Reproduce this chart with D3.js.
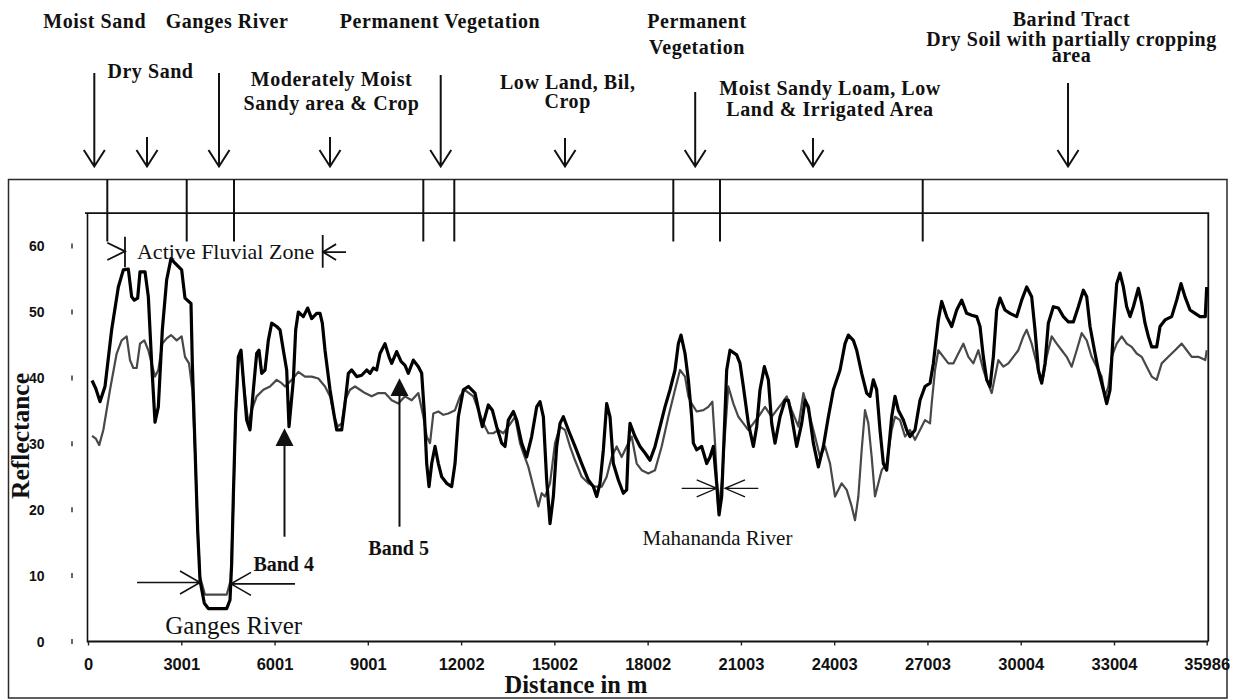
<!DOCTYPE html>
<html>
<head>
<meta charset="utf-8">
<title>Reflectance profile across the transect</title>
<script src="https://cdn.jsdelivr.net/npm/d3@7"></script>
<style>
  html, body { margin: 0; padding: 0; background: #fff; }
  svg { display: block; }
</style>
</head>
<body>
<svg id="chart" width="1244" height="700"></svg>
<script>
// ---------------------------------------------------------------
// Reflectance along the transect: [distance in m, reflectance]
// ---------------------------------------------------------------
const band4Profile = [
  [130,39.6],[250,38.4],[386,36.4],[547,38.7],[761,47.3],[976,53.8],[1137,56.4],[1297,56.5],[1405,52.3],[1490,51.8],
  [1598,52.1],[1673,56.1],[1834,56.1],[1941,52.3],[2048,42.2],[2155,33.3],[2262,35.6],[2391,47.3],[2531,54.9],[2670,58.1],
  [2799,57.4],[3013,56.4],[3120,52.1],[3313,51.3],[3356,42.2],[3442,29.5],[3528,16.9],[3603,9.3],[3742,5.8],[3871,5.0],
  [4461,5.0],[4568,6.3],[4622,11.9],[4675,22.0],[4750,34.6],[4836,43.2],[4922,44.2],[4997,39.7],[5104,33.6],[5211,32.1],
  [5319,38.2],[5426,43.7],[5501,44.2],[5587,40.7],[5694,41.2],[5801,45.7],[5908,48.3],[6069,47.8],[6177,47.3],[6284,44.2],
  [6391,41.2],[6466,32.6],[6606,39.7],[6681,47.3],[6766,50.0],[6927,49.3],[7067,50.6],[7195,49.0],[7356,49.8],[7463,49.8],
  [7538,48.3],[7624,44.2],[7785,38.2],[7925,34.1],[8000,32.1],[8160,32.1],[8268,36.1],[8375,40.7],[8482,41.2],[8643,40.2],
  [8804,40.4],[8965,41.2],[9072,40.7],[9179,41.5],[9286,41.2],[9393,43.7],[9554,45.2],[9683,43.2],[9769,42.2],[9929,44.0],
  [10069,42.5],[10198,41.9],[10305,40.7],[10466,42.7],[10627,41.7],[10734,40.7],[10820,34.6],[10895,27.0],[10970,23.5],[11056,27.0],
  [11163,29.6],[11270,27.0],[11377,25.0],[11538,24.0],[11699,23.5],[11806,27.0],[11913,34.1],[12074,38.2],[12235,38.7],[12449,37.7],
  [12610,34.1],[12685,32.6],[12878,35.9],[13007,35.1],[13146,32.6],[13307,30.1],[13414,29.6],[13522,33.6],[13683,34.9],[13790,33.6],
  [13951,30.1],[14111,28.0],[14272,31.1],[14433,35.6],[14540,36.4],[14648,34.1],[14755,24.5],[14862,17.9],[14969,22.0],[15076,29.6],
  [15184,33.1],[15291,34.1],[15452,32.1],[15666,29.6],[15881,27.0],[16095,24.5],[16256,23.5],[16363,22.0],[16470,24.0],[16578,29.1],
  [16685,36.1],[16792,34.1],[16899,27.0],[17060,24.5],[17221,22.5],[17328,23.0],[17382,29.6],[17436,33.1],[17596,31.1],[17757,29.6],
  [17918,28.6],[18079,27.5],[18240,29.6],[18401,32.6],[18561,35.6],[18722,38.2],[18883,41.2],[18990,45.2],[19076,46.5],[19205,43.7],
  [19312,39.7],[19419,34.1],[19473,30.1],[19580,29.1],[19741,29.6],[19902,27.0],[20009,28.0],[20116,29.6],[20223,24.0],[20299,19.2],
  [20384,22.0],[20470,32.1],[20545,41.2],[20652,44.2],[20867,43.5],[20974,42.2],[21081,38.7],[21242,33.1],[21403,29.6],[21510,32.6],
  [21617,38.2],[21757,41.7],[21886,39.7],[21993,33.1],[22100,30.1],[22261,34.1],[22422,36.6],[22529,36.6],[22636,34.1],[22797,29.6],
  [22958,33.1],[23065,36.6],[23172,35.6],[23333,30.1],[23494,26.5],[23655,29.6],[23816,34.1],[23977,38.2],[24191,41.2],[24351,45.2],
  [24459,46.5],[24619,45.7],[24727,44.2],[24888,40.7],[25048,37.7],[25156,37.2],[25263,39.7],[25370,38.2],[25477,32.1],[25585,27.0],
  [25692,26.0],[25853,34.1],[25960,37.2],[26067,35.1],[26228,33.6],[26335,32.1],[26442,31.1],[26603,32.1],[26764,36.6],[26925,38.7],
  [27086,39.2],[27193,42.2],[27354,48.8],[27461,51.6],[27622,49.3],[27783,47.8],[27944,50.3],[28104,51.8],[28265,49.8],[28426,49.5],
  [28587,49.3],[28694,47.8],[28801,43.2],[28909,39.7],[29016,38.7],[29123,43.2],[29230,50.3],[29337,52.1],[29498,50.3],[29659,49.8],
  [29874,49.3],[30035,51.8],[30195,53.8],[30356,52.3],[30463,47.3],[30571,41.2],[30678,39.2],[30785,42.2],[30892,48.3],[31053,50.8],
  [31214,50.6],[31375,49.3],[31536,48.5],[31697,48.5],[31857,50.8],[32018,53.3],[32126,52.3],[32233,47.8],[32394,43.7],[32501,41.2],
  [32662,38.2],[32769,36.1],[32876,38.2],[32984,47.3],[33091,54.3],[33198,55.9],[33305,53.8],[33412,50.8],[33519,49.3],[33627,50.8],
  [33788,53.6],[33895,51.3],[34002,48.3],[34109,46.3],[34217,44.7],[34377,44.7],[34485,47.8],[34646,48.8],[34860,49.3],[35021,51.8],
  [35160,54.3],[35289,52.3],[35450,50.3],[35611,49.8],[35772,49.3],[35940,49.3],[35986,53.8]
];

const band5Profile = [
  [130,31.2],[250,30.8],[360,29.8],[493,32.1],[708,38.2],[922,43.7],[1083,45.7],[1244,46.3],[1351,42.7],[1458,41.5],
  [1566,41.5],[1673,45.2],[1812,45.7],[1941,44.2],[2048,42.2],[2155,40.2],[2262,41.2],[2391,45.2],[2531,46.0],[2670,46.5],
  [2852,45.7],[3013,46.3],[3120,43.2],[3249,42.2],[3356,38.2],[3442,29.1],[3528,16.9],[3603,9.8],[3764,7.1],[4461,7.1],
  [4590,9.3],[4675,21.0],[4750,34.1],[4836,42.2],[4922,43.7],[5029,38.2],[5158,33.1],[5265,35.1],[5426,37.2],[5641,38.2],
  [5855,38.7],[6069,39.7],[6230,39.2],[6338,38.7],[6552,39.7],[6766,40.9],[6981,40.2],[7195,40.2],[7410,39.9],[7624,38.7],
  [7785,37.2],[7925,34.1],[8032,32.6],[8160,33.1],[8268,36.6],[8428,38.2],[8589,38.7],[8750,38.2],[8911,37.7],[9125,37.2],
  [9340,37.7],[9554,37.7],[9769,36.6],[9983,36.1],[10198,37.2],[10412,36.6],[10627,37.7],[10788,34.1],[10895,31.1],[11002,30.1],
  [11109,34.6],[11270,34.9],[11431,34.4],[11592,34.6],[11806,35.1],[11967,37.2],[12106,38.2],[12396,37.2],[12557,35.1],[12717,33.1],
  [12878,31.6],[13039,31.6],[13200,32.1],[13361,31.6],[13522,32.6],[13736,34.1],[13897,30.1],[14004,28.6],[14165,26.5],[14380,22.5],
  [14487,20.5],[14594,22.5],[14701,22.0],[14862,24.0],[15023,30.1],[15184,32.6],[15345,32.1],[15505,29.6],[15666,27.5],[15881,25.0],
  [16095,24.0],[16310,23.5],[16524,23.5],[16685,25.0],[16846,28.0],[17006,29.6],[17167,28.0],[17328,29.6],[17489,31.1],[17650,27.0],
  [17811,26.0],[18025,25.5],[18240,26.0],[18454,29.6],[18669,34.1],[18883,38.2],[19044,41.2],[19205,40.2],[19312,37.2],[19419,36.1],
  [19580,34.9],[19794,35.1],[19955,35.6],[20084,36.4],[20170,30.1],[20277,20.0],[20384,24.0],[20470,30.1],[20599,38.7],[20760,36.1],
  [20921,34.1],[21081,33.1],[21242,32.1],[21403,33.1],[21564,34.1],[21779,35.6],[21993,34.1],[22154,35.1],[22315,36.1],[22475,37.2],
  [22636,35.1],[22851,32.6],[23012,37.7],[23172,35.1],[23387,31.1],[23548,28.0],[23709,29.6],[23870,27.0],[24030,22.0],[24244,24.0],
  [24405,23.0],[24566,20.5],[24673,18.4],[24780,22.0],[24888,29.1],[24995,35.1],[25102,33.1],[25209,28.0],[25316,22.0],[25424,24.0],
  [25531,26.0],[25692,27.0],[25853,32.1],[25960,34.1],[26121,33.6],[26282,31.1],[26442,32.1],[26603,30.6],[26764,32.1],[26925,33.6],
  [27086,33.1],[27139,36.1],[27247,41.2],[27354,44.2],[27515,43.2],[27676,42.2],[27836,42.2],[27997,43.7],[28158,45.2],[28319,43.2],
  [28480,42.2],[28641,44.2],[28801,41.2],[28909,39.7],[29070,37.7],[29177,40.2],[29284,42.7],[29445,41.7],[29606,42.2],[29766,43.2],
  [29927,44.2],[30088,46.3],[30195,47.3],[30356,45.2],[30517,42.2],[30624,39.7],[30731,40.2],[30839,43.2],[31000,46.3],[31160,45.2],
  [31321,44.2],[31482,43.2],[31643,41.7],[31804,44.2],[31965,46.8],[32126,45.7],[32286,43.2],[32447,41.7],[32608,40.2],[32715,37.2],
  [32823,38.7],[32930,43.2],[33091,45.2],[33252,46.3],[33412,45.2],[33573,44.7],[33734,43.7],[33895,43.2],[34056,41.7],[34217,40.2],
  [34377,39.7],[34538,42.2],[34753,43.2],[34968,44.2],[35182,45.2],[35343,44.2],[35504,43.2],[35718,43.2],[35940,42.7],[35986,44.2]
];

const xTickValues = [0, 3001, 6001, 9001, 12002, 15002, 18002, 21003, 24003, 27003, 30004, 33004, 35986];
const yTickValues = [0, 10, 20, 30, 40, 50, 60];

// Land-cover notes written above the profile (x = distance along the transect)
const headerNotes = [
  { lines: ["Moist Sand"], at: 216, rows: [27.7] },
  { lines: ["Ganges River"], at: 4471, rows: [27.7] },
  { lines: ["Permanent Vegetation"], at: 11323, rows: [27.7] },
  { lines: ["Dry Sand"], at: 2010, rows: [77.7] },
  { lines: ["Moderately Moist", "Sandy area & Crop"], at: 7833, rows: [85.6, 110.2] },
  { lines: ["Low Land, Bil,", "Crop"], at: 15431, rows: [88.6, 107.6] },
  { lines: ["Permanent", "Vegetation"], at: 19590, rows: [28.3, 53.6] },
  { lines: ["Moist Sandy Loam, Low", "Land & Irrigated Area"], at: 23869, rows: [94.6, 116.2] },
  { lines: ["Barind Tract", "Dry Soil with partially cropping", "area"], at: 31637, rows: [26.3, 45.6, 62.2] }
];
const headerArrows = [
  { at: 203, from: 73 }, { at: 1898, from: 137 }, { at: 4214, from: 73 }, { at: 7785, from: 137 },
  { at: 11346, from: 75 }, { at: 15344, from: 138 }, { at: 19532, from: 92 }, { at: 23322, from: 138 },
  { at: 31525, from: 83 }
];
const zoneBreaks = [621, 3175, 4697, 10786, 11783, 18828, 20330, 26851];

// ---------------------------------------------------------------
const svg = d3.select("#chart");
const SERIF = "'Liberation Serif', 'Times New Roman', serif";
const SANS = "'Liberation Sans', Arial, sans-serif";

const x = d3.scaleLinear().domain([0, 35986]).range([88, 1206.7]);
const y = d3.scaleLinear().domain([0, 65]).range([641.5, 213.15]);

const frameTop = 179.5;
const plotRight = 1208.3;

// outer frame
svg.append("rect")
  .attr("x", 8.5).attr("y", frameTop)
  .attr("width", 1218.5).attr("height", 518.5)
  .attr("fill", "none").attr("stroke", "#2a2a2a").attr("stroke-width", 1.5);

// plot box: top and right edges, left axis
svg.append("path")
  .attr("d", `M85,${y(65)}H${plotRight}V${y(0)}`)
  .attr("fill", "none").attr("stroke", "#111").attr("stroke-width", 1.8);
svg.append("line")
  .attr("x1", x(0) - 0.5).attr("x2", x(0) - 0.5)
  .attr("y1", y(65)).attr("y2", y(0) + 1)
  .attr("stroke", "#111").attr("stroke-width", 1.6);

// x axis
const xAxis = d3.axisBottom(x)
  .tickValues(xTickValues)
  .tickFormat(d3.format("d"))
  .tickSizeInner(4).tickSizeOuter(0).tickPadding(12.8);
const gx = svg.append("g").attr("transform", `translate(0,${y(0)})`).call(xAxis);
gx.select(".domain").attr("stroke", "#111").attr("stroke-width", 1.8)
  .attr("d", `M${x(0)},0H${plotRight}`);
gx.selectAll(".tick line").attr("stroke", "#222").attr("stroke-width", 1.4);
gx.selectAll(".tick text")
  .attr("font-family", SANS).attr("font-weight", "bold")
  .attr("font-size", 16.5).attr("fill", "#111");

// y axis labels and their short tick marks
const gy = svg.append("g");
gy.selectAll("text").data(yTickValues).join("text")
  .attr("x", 44.5).attr("y", d => y(d) + 5)
  .attr("text-anchor", "end")
  .attr("font-family", SANS).attr("font-weight", "bold")
  .attr("font-size", 14).attr("fill", "#111")
  .text(d => d);
gy.selectAll("line").data(yTickValues).join("line")
  .attr("x1", 72).attr("x2", 72)
  .attr("y1", d => y(d) - 2.5).attr("y2", d => y(d) + 2.5)
  .attr("stroke", "#333").attr("stroke-width", 1.5);

// axis titles
svg.append("text")
  .attr("x", x(15700)).attr("y", 692.5)
  .attr("text-anchor", "middle")
  .attr("font-family", SERIF).attr("font-weight", "bold").attr("font-size", 24.5)
  .attr("fill", "#111")
  .text("Distance in m");
svg.append("text")
  .attr("transform", "translate(28.5,436) rotate(-90)")
  .attr("text-anchor", "middle")
  .attr("font-family", SERIF).attr("font-weight", "bold").attr("font-size", 25.5)
  .attr("fill", "#111")
  .text("Reflectance");

// profile lines
const line = d3.line().x(d => x(d[0])).y(d => y(d[1]));
svg.append("path").datum(band5Profile)
  .attr("d", line)
  .attr("fill", "none").attr("stroke", "#484848").attr("stroke-width", 2.2)
  .attr("stroke-linejoin", "round");
svg.append("path").datum(band4Profile)
  .attr("d", line)
  .attr("fill", "none").attr("stroke", "#000").attr("stroke-width", 3.2)
  .attr("stroke-linejoin", "round");

// ---------------------------------------------------------------
// header: zone separators, notes and arrows
// ---------------------------------------------------------------
const header = svg.append("g").attr("stroke", "#111").attr("fill", "none");
header.selectAll("line.zone").data(zoneBreaks).join("line")
  .attr("class", "zone")
  .attr("x1", d => x(d)).attr("x2", d => x(d))
  .attr("y1", frameTop).attr("y2", y(60.7))
  .attr("stroke-width", 2);

header.selectAll("path.arrow").data(headerArrows).join("path")
  .attr("class", "arrow")
  .attr("stroke-width", 2)
  .attr("d", d => {
    const cx = x(d.at), tip = 166.5;
    return `M${cx},${d.from}V${tip}M${cx - 10.5},${tip - 16.5}L${cx},${tip}L${cx + 10.5},${tip - 16.5}`;
  });

const notes = svg.append("g")
  .attr("font-family", SERIF).attr("font-weight", "bold")
  .attr("font-size", 20).attr("letter-spacing", 0.55)
  .attr("text-anchor", "middle").attr("fill", "#111");
headerNotes.forEach(n => {
  n.lines.forEach((t, i) => {
    notes.append("text").attr("x", x(n.at)).attr("y", n.rows[i]).text(t);
  });
});

// ---------------------------------------------------------------
// in-plot annotations
// ---------------------------------------------------------------
const ann = svg.append("g").attr("stroke", "#111").attr("fill", "none");

// active fluvial zone markers
ann.append("path").attr("stroke-width", 1.8)
  .attr("d", `M${x(621)},${y(60.5)}L${x(1190)},${y(59.2)}L${x(621)},${y(57.9)}` +
             `M${x(1190)},${y(61.4)}V${y(56.8)}`);
ann.append("path").attr("stroke-width", 1.8)
  .attr("d", `M${x(7550)},${y(61.7)}V${y(56.7)}` +
             `M${x(8299)},${y(59.1)}H${x(7560)}` +
             `M${x(7980)},${y(60.3)}L${x(7560)},${y(59.1)}L${x(7980)},${y(57.9)}`);
svg.append("text")
  .attr("x", x(1576)).attr("y", y(58.05))
  .attr("font-family", SERIF).attr("font-size", 22).attr("fill", "#111")
  .text("Active Fluvial Zone");

// Ganges River pointers
const gY1 = y(8.95), gY2 = y(8.75);
ann.append("path").attr("stroke-width", 1.6)
  .attr("d", `M${x(1576)},${gY1}H${x(3603)}` +
             `M${x(3603) - 20},${gY1 - 11.5}L${x(3603)},${gY1}L${x(3603) - 20},${gY1 + 11.5}` +
             `M${x(6659)},${gY2}H${x(4600)}` +
             `M${x(4600) + 20},${gY2 - 11.5}L${x(4600)},${gY2}L${x(4600) + 20},${gY2 + 11.5}`);
svg.append("text")
  .attr("x", x(4687)).attr("y", y(1.2))
  .attr("text-anchor", "middle")
  .attr("font-family", SERIF).attr("font-size", 25).attr("fill", "#111")
  .text("Ganges River");

// Mahananda River pointers
const mY = y(23.25);
ann.append("path").attr("stroke-width", 1.3)
  .attr("d", `M${x(19098)},${mY}H${x(20224)}` +
             `M${x(20224) - 20},${mY - 8.5}L${x(20224)},${mY}L${x(20224) - 20},${mY + 8.5}` +
             `M${x(21562)},${mY}H${x(20491)}` +
             `M${x(20491) + 20},${mY - 8.5}L${x(20491)},${mY}L${x(20491) + 20},${mY + 8.5}`);
svg.append("text")
  .attr("x", x(20250)).attr("y", y(14.64))
  .attr("text-anchor", "middle")
  .attr("font-family", SERIF).attr("font-size", 21).attr("fill", "#111")
  .text("Mahananda River");

// band labels with solid-headed pointers
const bandNotes = [
  { label: "Band 4", at: 6321, tip: 32.35, tail: 15.9, labelAt: 5321, labelBase: 10.7 },
  { label: "Band 5", at: 10020, tip: 39.94, tail: 17.42, labelAt: 9017, labelBase: 13.13 }
];
bandNotes.forEach(b => {
  const cx = x(b.at), ty = y(b.tip);
  ann.append("line")
    .attr("x1", cx).attr("x2", cx).attr("y1", y(b.tail)).attr("y2", ty + 15)
    .attr("stroke-width", 2);
  svg.append("path")
    .attr("d", `M${cx},${ty}L${cx - 9},${ty + 17.7}L${cx + 9},${ty + 17.7}Z`)
    .attr("fill", "#111");
  svg.append("text")
    .attr("x", x(b.labelAt)).attr("y", y(b.labelBase))
    .attr("font-family", SERIF).attr("font-weight", "bold")
    .attr("font-size", 20).attr("fill", "#111")
    .text(b.label);
});
</script>
</body>
</html>
